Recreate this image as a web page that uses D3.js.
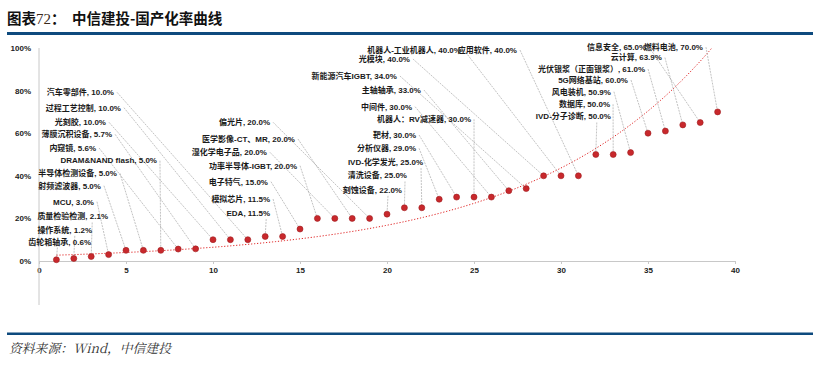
<!DOCTYPE html>
<html>
<head>
<meta charset="utf-8">
<script src="https://cdn.jsdelivr.net/npm/d3@7"></script>
<style>
  html, body { margin: 0; padding: 0; background: #fff; }
  svg { display: block; }
</style>
</head>
<body>
<svg id="chart" width="828" height="366"></svg>
<script>
// ---------------- data ----------------
const categories = [
  "齿轮箱轴承", "操作系统", "质量检验检测", "MCU", "射频滤波器", "半导体检测设备",
  "DRAM&NAND flash", "内窥镜", "薄膜沉积设备", "光刻胶", "过程工艺控制", "汽车零部件",
  "EDA", "模拟芯片", "电子特气", "功率半导体-IGBT", "湿化学电子品", "医学影像-CT、MR",
  "偏光片", "刻蚀设备", "清洗设备", "IVD-化学发光", "分析仪器", "靶材",
  "机器人：RV减速器", "中间件", "主轴轴承", "新能源汽车IGBT", "光模块", "机器人-工业机器人",
  "应用软件", "IVD-分子诊断", "数据库", "风电装机", "5G网络基站", "光伏银浆（正面银浆）",
  "云计算", "信息安全", "燃料电池"
];
const ranks = d3.range(1, 40); // x position 1..39
const rates = [
  0.6, 1.2, 2.1, 3.0, 5.0, 5.0, 5.0, 5.6, 5.7, 10.0, 10.0, 10.0,
  11.5, 11.5, 15.0, 20.0, 20.0, 20.0, 20.0, 22.0, 25.0, 25.0, 29.0, 30.0,
  30.0, 30.0, 33.0, 34.0, 40.0, 40.0, 40.0, 50.0, 50.0, 50.9, 60.0, 61.0,
  63.9, 65.0, 70.0
];
const xTicks = [0, 5, 10, 15, 20, 25, 30, 35, 40];
const yTicks = [0, 20, 40, 60, 80, 100];
const yTickLabels = ["0%", "20%", "40%", "60%", "80%", "100%"];
// label anchor (right end of text) in data units: x rank, y percent
const labelAnchorX = [
  2.99, 3.05, 3.97, 3.16, 3.56, 4.48, 6.78, 3.28, 4.20, 3.85, 4.71, 4.31,
  13.28, 13.28, 13.16, 14.83, 13.10, 14.71, 13.28, 20.86, 21.15, 22.07, 21.67, 21.67,
  24.83, 21.44, 21.95, 20.57, 21.32, 24.25, 27.47, 32.87, 32.82, 32.87, 33.85, 34.83,
  35.80, 34.89, 38.16
];
const labelAnchorY = [
  9.06, 14.55, 20.8, 27.84, 35.35, 41.17, 47.09, 53.05, 59.48, 65.12, 71.97, 79.2,
  22.39, 29.11, 37.23, 44.74, 51.03, 57.28, 65.12, 33.33, 40.05, 46.34, 52.91, 59.15,
  66.53, 72.44, 80.28, 86.85, 94.84, 99.06, 99.06, 67.75, 73.57, 79.48, 84.98, 90.14,
  95.5, 100.4, 100.4
];

// ---------------- layout ----------------
const svg = d3.select("#chart");
const x = d3.scaleLinear().domain([0, 40]).range([39, 735]);
const y = d3.scaleLinear().domain([0, 100]).range([261, 48]);
const labelFont = "'Liberation Sans', Arial, 'Noto Sans CJK SC', sans-serif";

// title
const title = svg.append("text").attr("x", 7).attr("y", 24)
  .style("font-family", "'Noto Sans CJK SC', sans-serif")
  .style("font-size", "14.5px").style("font-weight", "bold").attr("fill", "#111");
title.append("tspan").text("图表");
title.append("tspan").text("72")
  .style("font-family", "'Liberation Serif', 'Times New Roman', serif")
  .style("font-weight", "normal").style("font-size", "15px").attr("fill", "#3a2a1a");
title.append("tspan").text("：");
svg.append("text").attr("x", 72).attr("y", 24)
  .style("font-family", "'Noto Sans CJK SC', sans-serif")
  .style("font-size", "14.5px").style("font-weight", "bold").attr("fill", "#111")
  .text("中信建投-国产化率曲线");

svg.append("rect").attr("x", 7).attr("y", 32).attr("width", 806).attr("height", 3).attr("fill", "#0e4a7e");
svg.append("rect").attr("x", 7).attr("y", 332.5).attr("width", 806).attr("height", 2.5).attr("fill", "#0e4a7e");
svg.append("text").attr("x", 9).attr("y", 353)
  .style("font-family", "'Noto Serif CJK SC', 'Liberation Serif', serif")
  .style("font-size", "12.8px").style("font-style", "italic").attr("fill", "#333")
  .text("资料来源：Wind，中信建投");

// axes
const gx = svg.append("g").attr("transform", `translate(0,${y(0)})`)
  .call(d3.axisBottom(x).tickValues(xTicks).tickSize(3).tickSizeOuter(0));
gx.select(".domain").attr("stroke", "#c8c8c8");
gx.selectAll(".tick line").attr("stroke", "#c8c8c8");
gx.selectAll(".tick text").attr("y", 6).attr("fill", "#222")
  .style("font-family", labelFont).style("font-size", "8px").style("font-weight", "bold");

svg.append("line").attr("x1", x(0)).attr("x2", x(0)).attr("y1", y(100)).attr("y2", 305)
  .attr("stroke", "#c8c8c8");
const gy = svg.append("g").attr("transform", `translate(${x(0)},0)`)
  .call(d3.axisLeft(y).tickValues(yTicks).tickFormat((d, i) => yTickLabels[i]).tickSize(0));
gy.select(".domain").remove();
gy.selectAll(".tick text").attr("x", -8).attr("fill", "#222")
  .style("font-family", labelFont).style("font-size", "8px").style("font-weight", "bold");

// exponential trendline (least squares on ln y, as a spreadsheet does), clipped at 100%
const lnY = rates.map(Math.log);
const mx = d3.mean(ranks), my = d3.mean(lnY);
const b = d3.sum(ranks, (r, i) => (r - mx) * (lnY[i] - my)) / d3.sum(ranks, r => (r - mx) * (r - mx));
const a = Math.exp(my - b * mx);
const trend = d3.range(1, 39.001, 0.1).map(t => [t, a * Math.exp(b * t)]);
svg.append("clipPath").attr("id", "plotclip").append("rect")
  .attr("x", x(0)).attr("y", y(100)).attr("width", x(40) - x(0)).attr("height", y(0) - y(100));
svg.append("path").datum(trend).attr("clip-path", "url(#plotclip)")
  .attr("d", d3.line().x(d => x(d[0])).y(d => y(d[1])))
  .attr("fill", "none").attr("stroke", "#e02020").attr("stroke-width", 1)
  .attr("stroke-dasharray", "1.2,1.8");

// labels & leader lines
const items = ranks.map((r, i) => ({
  r, v: rates[i], name: categories[i], lx: labelAnchorX[i], ly: labelAnchorY[i]
}));
const gl = svg.append("g");
const labels = gl.selectAll("text.lab").data(items).join("text").attr("class", "lab")
  .attr("x", d => x(d.lx)).attr("y", d => y(d.ly)).attr("dy", "0.35em")
  .attr("text-anchor", "end").attr("fill", "#1a1a1a")
  .style("font-family", labelFont).style("font-size", "8px").style("font-weight", "bold")
  .text(d => `${d.name}, ${d.v.toFixed(1)}%`);

labels.each(function(d) {
  const bb = this.getBBox();
  const px = x(d.r), py = y(d.v);
  let sx, sy;
  if (px < bb.x + bb.width) {
    sx = Math.max(bb.x + 4, Math.min(px + 1, bb.x + bb.width - 2));
    sy = bb.y + bb.height + 1;
  } else {
    sx = bb.x + bb.width + 3;
    sy = y(d.ly);
  }
  gl.insert("line", "text").attr("x1", sx).attr("y1", sy).attr("x2", px).attr("y2", py)
    .attr("stroke", "#9a9a9a").attr("stroke-width", 0.6).attr("stroke-dasharray", "2,1");
});

// points
svg.append("g").selectAll("circle").data(items).join("circle")
  .attr("cx", d => x(d.r)).attr("cy", d => y(d.v)).attr("r", 3)
  .attr("fill", "#c8282c").attr("stroke", "#a01c1f").attr("stroke-width", 0.6);
</script>
</body>
</html>
